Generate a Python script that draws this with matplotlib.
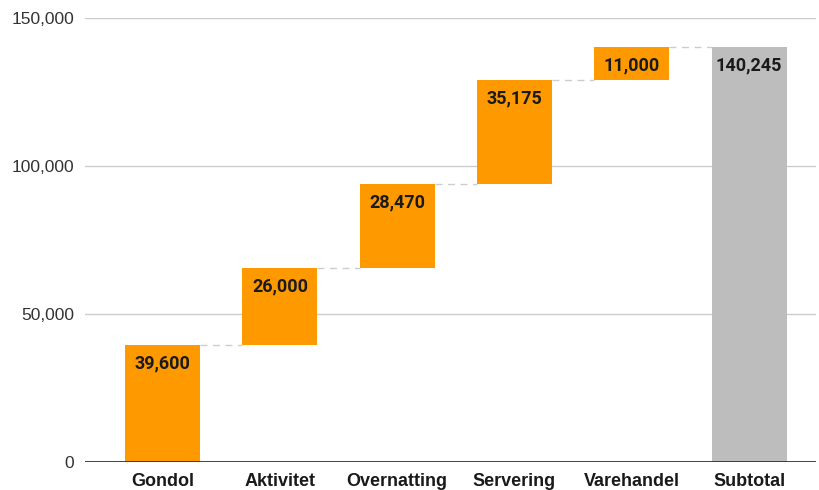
import matplotlib
matplotlib.use("Agg")
from matplotlib import pyplot as plt
import numpy as np

categories = ["Gondol", "Aktivitet", "Overnatting", "Servering", "Varehandel", "Subtotal"]
steps = [39600, 26000, 28470, 35175, 11000]
subtotal = 140245

orange = "#FF9900"
grey = "#BDBDBD"

ends = np.cumsum(steps)
starts = ends - np.array(steps)
bottoms = list(starts) + [0]
heights = list(steps) + [subtotal]
colors = [orange] * len(steps) + [grey]
x = np.arange(len(categories))
w = 0.64

fig = plt.figure(figsize=(8.2, 4.9), dpi=100)
ax = fig.add_axes([0.104, 0.057, 0.891, 0.906])

for yv in [50000, 100000, 150000]:
    ax.axhline(yv, color="#cccccc", lw=1, zorder=0)

ax.bar(x, heights, bottom=bottoms, width=w, color=colors, zorder=2)

# connectors
tops = [b + h for b, h in zip(bottoms, heights)]
for i in range(len(categories) - 1):
    ax.plot([x[i] + w / 2, x[i + 1] - w / 2], [ends[i], ends[i]],
            color="#cccccc", lw=1, ls=(0, (5, 4)), zorder=1)

for i, (t, h) in enumerate(zip(tops, heights)):
    ax.annotate("{:,}".format(h), (x[i], t), xytext=(0, -7), textcoords="offset points",
                ha="center", va="top", fontsize=13, fontweight="bold",
                family="Roboto", color="#1a1a1a", zorder=3)

ax.axhline(0, color="#333333", lw=1.3, zorder=3)

ax.set_xlim(-0.66, 5.57)
ax.set_ylim(0, 150000)
ax.set_xticks(x)
ax.set_xticklabels(categories, fontsize=13, fontweight="bold", family="Liberation Sans", color="#1a1a1a")
ax.set_yticks([0, 50000, 100000, 150000])
ax.set_yticklabels(["0", "50,000", "100,000", "150,000"], fontsize=12.5, family="Liberation Sans", color="#333333")
ax.tick_params(axis="both", length=0)
ax.tick_params(axis="x", pad=8)
ax.tick_params(axis="y", pad=8)
for s in ax.spines.values():
    s.set_visible(False)

fig.savefig("out.png", dpi=100)
